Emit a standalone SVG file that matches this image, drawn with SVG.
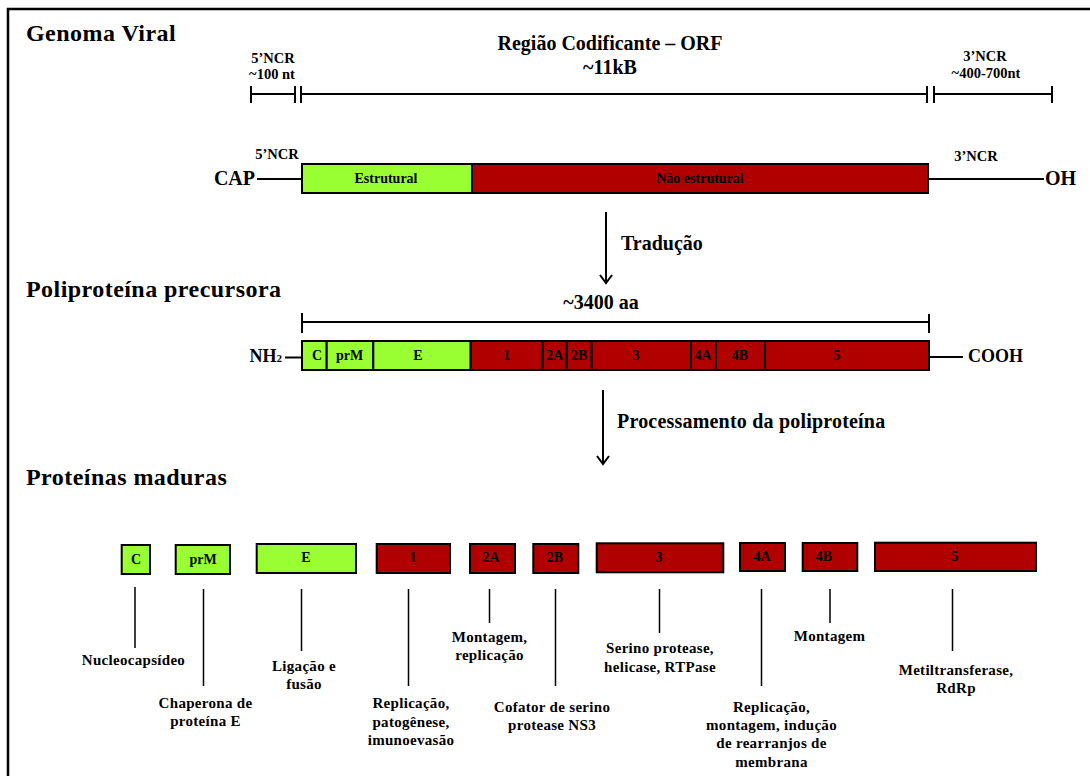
<svg xmlns="http://www.w3.org/2000/svg" width="1090" height="776" viewBox="0 0 1090 776">
<defs>
<style>
text{font-family:"Liberation Serif","Times New Roman",serif;font-weight:bold;fill:#000}
.title{font-size:24px;letter-spacing:0.45px}
.mid{font-size:20px;text-anchor:middle}
.ncr{font-size:14.5px;text-anchor:middle}
.lbl{font-size:14px;text-anchor:middle}
.fn{font-size:15px;text-anchor:middle;letter-spacing:0.3px}
.end{font-size:20px}
.g{fill:#99FF33;stroke:#000;stroke-width:2}
.r{fill:#B00000;stroke:#000;stroke-width:2}
.ln{stroke:#000;stroke-width:2;fill:none}
.lead{stroke:#000;stroke-width:1.5;fill:none}
</style>
<marker id="ah" viewBox="-10 -10 20 20" markerWidth="20" markerHeight="20" refX="0" refY="0" orient="auto" markerUnits="userSpaceOnUse">
<path d="M-8,-6 L0,0 L-8,6" fill="none" stroke="#000" stroke-width="2"/>
</marker>
</defs>
<rect width="1090" height="776" fill="#fff"/>
<path d="M8,776 V9 H1090" fill="none" stroke="#000" stroke-width="2.5"/>

<g id="titles">
<text class="title" x="26" y="41">Genoma Viral</text>
<text class="title" x="26" y="297">Poliproteína precursora</text>
<text class="title" x="26" y="485">Proteínas maduras</text>
<text class="mid" x="610" y="50">Região Codificante – ORF</text>
<text class="mid" x="610" y="74">~11kB</text>
<text class="ncr" x="273" y="63">5’NCR</text>
<text class="ncr" x="272" y="79">~100 nt</text>
<text class="ncr" x="985" y="61">3’NCR</text>
<text class="ncr" x="986" y="78">~400-700nt</text>
<text class="mid" x="601" y="309">~3400 aa</text>
</g>

<g id="connectors">
<path class="ln" d="M251,86 V103 M251,94 H295 M295,86 V103 M301,86 V103 M301,94 H927 M927,86 V103 M934,86 V103 M934,94 H1052 M1052,86 V103"/>
<path class="ln" d="M302,313 V333 M302,322 H929 M929,314 V333"/>
<path class="ln" d="M257,179 H302 M928,179 H1044"/>
<path class="ln" d="M285,357.5 H302 M929,357 H963"/>
<line class="ln" x1="606" y1="212" x2="606" y2="283" marker-end="url(#ah)"/>
<line class="ln" x1="603" y1="390" x2="603" y2="464" marker-end="url(#ah)"/>
<path class="lead" d="M135,587 V648 M203.5,589 V686 M301.5,589 V651 M408.5,589 V686 M489.5,589 V623 M555.5,589 V686 M659.5,589 V633 M761.5,589 V686 M830,589 V623 M952.5,589 V651"/>
</g>

<g id="genoma">
<text class="end" x="255" y="185" text-anchor="end">CAP</text>
<text class="ncr" x="277" y="159">5’NCR</text>
<g id="g-estrutural"><rect class="g" x="302" y="164" width="170" height="29"/><text class="lbl" x="386" y="183">Estrutural</text></g>
<g id="g-naoestrutural"><rect class="r" x="472" y="164" width="456" height="29"/><text class="lbl" x="700" y="183">Não estrutural</text></g>
<text class="ncr" x="976" y="161">3’NCR</text>
<text class="end" x="1045" y="185">OH</text>
<text x="621" y="250" style="font-size:20px">Tradução</text>
</g>

<g id="poliproteina">
<text x="282" y="362" text-anchor="end" style="font-size:18px">NH<tspan style="font-size:11px">2</tspan></text>
<g id="p-C"><rect class="g" x="302" y="341" width="24.7" height="29"/><text class="lbl" x="317" y="360">C</text></g>
<g id="p-prM"><rect class="g" x="326.7" y="341" width="46.6" height="29"/><text class="lbl" x="349.5" y="360">prM</text></g>
<g id="p-E"><rect class="g" x="373.3" y="341" width="97.4" height="29"/><text class="lbl" x="418" y="360">E</text></g>
<g id="p-1"><rect class="r" x="470.7" y="341" width="72" height="29"/><text class="lbl" x="506.7" y="360">1</text></g>
<g id="p-2A"><rect class="r" x="542.7" y="341" width="24" height="29"/><text class="lbl" x="554.7" y="360">2A</text></g>
<g id="p-2B"><rect class="r" x="566.7" y="341" width="25" height="29"/><text class="lbl" x="579.2" y="360">2B</text></g>
<g id="p-3"><rect class="r" x="591.7" y="341" width="99.3" height="29"/><text class="lbl" x="636" y="360">3</text></g>
<g id="p-4A"><rect class="r" x="691" y="341" width="25" height="29"/><text class="lbl" x="703" y="360">4A</text></g>
<g id="p-4B"><rect class="r" x="716" y="341" width="49" height="29"/><text class="lbl" x="740" y="360">4B</text></g>
<g id="p-5"><rect class="r" x="765" y="341" width="164" height="29"/><text class="lbl" x="837" y="360">5</text></g>
<text x="968" y="362" style="font-size:18px">COOH</text>
<text x="617" y="428" style="font-size:20px;letter-spacing:0.2px">Processamento da poliproteína</text>
</g>

<g id="maduras">
<g id="m-C"><rect class="g" x="121.7" y="545" width="28.3" height="29"/><text class="lbl" x="136" y="564">C</text>
<text class="fn" x="133.5" y="665">Nucleocapsídeo</text></g>
<g id="m-prM"><rect class="g" x="175.7" y="545" width="54.3" height="29"/><text class="lbl" x="203" y="564">prM</text>
<text class="fn" x="205.5" y="708">Chaperona de</text><text class="fn" x="205.5" y="726">proteína E</text></g>
<g id="m-E"><rect class="g" x="256.7" y="544" width="99.3" height="29"/><text class="lbl" x="306" y="562">E</text>
<text class="fn" x="304" y="671">Ligação e</text><text class="fn" x="304" y="689">fusão</text></g>
<g id="m-1"><rect class="r" x="376.7" y="544" width="73.3" height="29"/><text class="lbl" x="413" y="562">1</text>
<text class="fn" x="411" y="708">Replicação,</text><text class="fn" x="411" y="727">patogênese,</text><text class="fn" x="411" y="745">imunoevasão</text></g>
<g id="m-2A"><rect class="r" x="470" y="544" width="45" height="29"/><text class="lbl" x="491" y="562">2A</text>
<text class="fn" x="489.5" y="642">Montagem,</text><text class="fn" x="489.5" y="660">replicação</text></g>
<g id="m-2B"><rect class="r" x="533.3" y="544" width="45" height="29"/><text class="lbl" x="555" y="562">2B</text>
<text class="fn" x="552" y="712">Cofator de serino</text><text class="fn" x="552" y="730">protease NS3</text></g>
<g id="m-3"><rect class="r" x="596.7" y="543.3" width="126.6" height="29"/><text class="lbl" x="659" y="562">3</text>
<text class="fn" x="660" y="653">Serino protease,</text><text class="fn" x="660" y="672">helicase, RTPase</text></g>
<g id="m-4A"><rect class="r" x="740" y="543" width="45" height="28"/><text class="lbl" x="762" y="561">4A</text>
<text class="fn" x="771.5" y="712">Replicação,</text><text class="fn" x="771.5" y="730">montagem, indução</text><text class="fn" x="771.5" y="748">de rearranjos de</text><text class="fn" x="771.5" y="767">membrana</text></g>
<g id="m-4B"><rect class="r" x="802.7" y="543" width="54.6" height="28"/><text class="lbl" x="824" y="561">4B</text>
<text class="fn" x="829.5" y="641">Montagem</text></g>
<g id="m-5"><rect class="r" x="875" y="542.7" width="161" height="28.3"/><text class="lbl" x="955" y="561">5</text>
<text class="fn" x="956" y="675">Metiltransferase,</text><text class="fn" x="956" y="693">RdRp</text></g>
</g>
</svg>
